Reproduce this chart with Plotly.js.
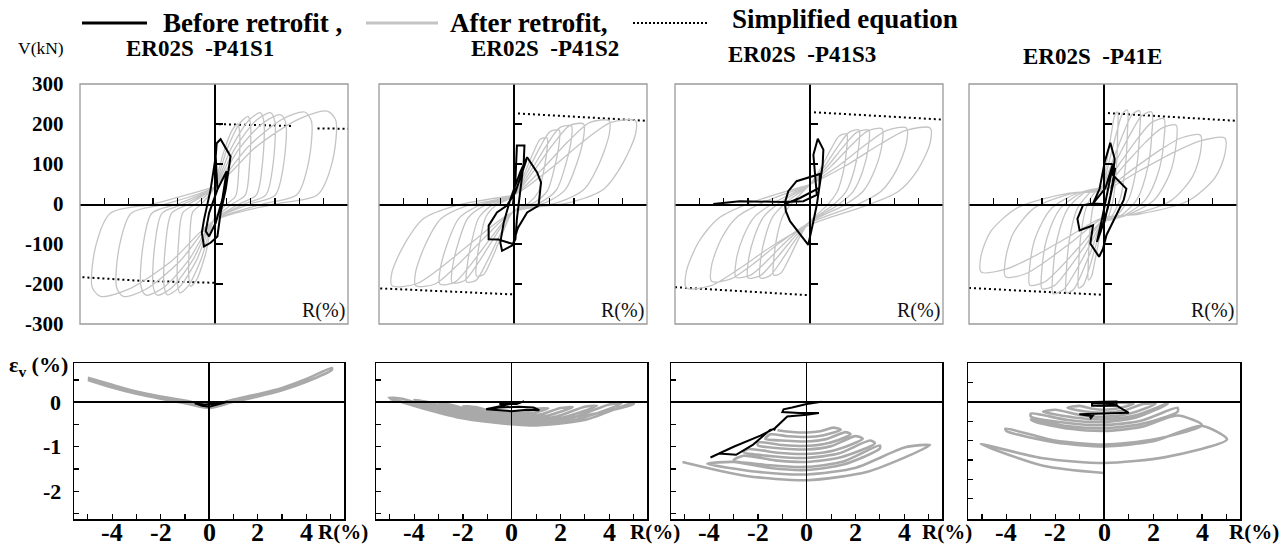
<!DOCTYPE html>
<html><head><meta charset="utf-8">
<script src="https://cdn.plot.ly/plotly-3.0.1.min.js"></script>
<style>html,body{margin:0;padding:0;background:#fff}#chart{width:1288px;height:548px}</style>
</head><body><div id="chart"></div>
<script>
// ================= DATA =================
// Top row: shear force V (kN) vs drift R (%)
const p1AfterR = [
0,0.37,0.74,0.98,1.05,1.02,0.89,0.53, 0,-0.36,-0.72,-0.96,-1.03,-1.0,-0.88,-0.52,
0,0.53,1.05,1.4,1.5,1.46,1.28,0.75, 0,-0.53,-1.05,-1.4,-1.5,-1.46,-1.28,-0.75,
0,0.72,1.44,1.91,2.05,1.99,1.74,1.03, 0,-0.72,-1.44,-1.91,-2.05,-1.99,-1.74,-1.03,
0,0.88,1.75,2.33,2.5,2.43,2.13,1.25, 0,-0.88,-1.75,-2.33,-2.5,-2.43,-2.13,-1.25,
0,1.03,2.07,2.74,2.95,2.86,2.51,1.48, 0,-1.05,-2.1,-2.79,-3.0,-2.91,-2.55,-1.5,
0,1.4,2.8,3.72,4.0,3.88,3.4,2.0, 0,-1.4,-2.8,-3.72,-4.0,-3.88,-3.4,-2.0,
0,1.75,3.5,4.65,5.0,4.85,4.25,2.5, 0,-1.75,-3.5,-4.65,-5.0,-4.85,-4.25,-2.5, 0];
const p1AfterV = [
36,124,184,200,180,90,20,0, -37,-128,-190,-206,-185,-93,-21,0,
39,136,201,219,197,99,22,0, -40,-138,-204,-222,-200,-100,-22,0,
41,141,210,228,205,103,23,0, -41,-141,-209,-227,-204,-102,-23,0,
41,141,210,228,205,103,23,0, -41,-141,-210,-228,-205,-103,-23,0,
40,138,205,223,201,100,22,0, -41,-141,-210,-228,-205,-103,-23,0,
41,143,212,230,207,104,23,0, -42,-143,-213,-231,-208,-104,-23,0,
42,144,213,232,209,104,23,0, -42,-143,-213,-231,-208,-104,-23,0, 42];
const p1BeforeR = [0.07,0.11,0.27,0.68,0.48,0.27,0.14,-0.14,-0.41,-0.5,-0.41,-0.14,0.07, 0.14,0.41,0.52,0.34,0.07,-0.2,-0.34,-0.2,0.14];
const p1BeforeV = [119,152,162,119,36,-22,-81,-97,-106,-72,-39,36,119, 36,69,82,11,-47,-81,-68,-22,36];
const p1EqR = [0,3.2,null,4.25,5.5,null,-5.4,-3,0];
const p1EqV = [200,195,null,189,188,null,-183,-192,-197];

const p2AfterR = [
0,0.42,0.81,1.12,1.4,1.4,1.26,1.04,0.66, 0,-0.45,-0.87,-1.2,-1.5,-1.5,-1.35,-1.11,-0.71,
0,0.57,1.1,1.52,1.9,1.9,1.71,1.41,0.89, 0,-0.57,-1.1,-1.52,-1.9,-1.9,-1.71,-1.41,-0.89,
0,0.72,1.39,1.92,2.4,2.4,2.16,1.78,1.13, 0,-0.75,-1.45,-2.0,-2.5,-2.5,-2.25,-1.85,-1.18,
0,0.87,1.68,2.32,2.9,2.9,2.61,2.15,1.36, 0,-0.9,-1.74,-2.4,-3.0,-3.0,-2.7,-2.22,-1.41,
0,1.19,2.29,3.16,3.95,3.95,3.56,2.92,1.86, 0,-1.2,-2.32,-3.2,-4.0,-4.0,-3.6,-2.96,-1.88,
0,1.51,2.92,4.02,5.03,5.03,4.53,3.72,2.36, 0,-1.49,-2.88,-3.98,-4.97,-4.97,-4.47,-3.68,-2.34, 0];
const p2AfterV = [
17,69,125,162,165,139,83,30,3, -18,-76,-137,-176,-180,-151,-90,-32,-4,
19,78,141,181,185,155,93,33,4, -20,-82,-148,-191,-195,-164,-98,-35,-4,
20,82,148,191,195,164,98,35,4, -20,-82,-149,-192,-196,-165,-98,-35,-4,
20,84,152,196,200,168,100,36,4, -20,-84,-152,-196,-200,-168,-100,-36,-4,
21,87,158,204,208,175,104,37,4, -20,-86,-155,-200,-204,-171,-102,-37,-4,
21,87,158,204,208,175,104,37,4, -20,-86,-155,-200,-204,-171,-102,-37,-4, 21];
const p2BeforeR = [0,0.1,0.16,0.47,0.44,0.3,0.16,0.1,-0.04,-0.45,-0.52,-0.38,-0.11,0.3,0.58,0.99,1.15,1.05,0.58,0.2,0.0,-0.6,-1.0,-1.0,-0.66,-0.25,0.1,0.55];
const p2BeforeV = [0,60,146,146,104,37,-37,-88,-104,-117,-96,-46,12,80,117,79,54,-4,-21,-60,-100,-89,-88,-54,-21,-4,30,110];
const p2EqR = [0,5.5,null,-5.45,0];
const p2EqV = [227,208,null,-211,-226];

const p3AfterR = [
0,0.47,0.9,1.24,1.55,1.55,1.4,1.15,0.73, 0,-0.44,-0.84,-1.16,-1.45,-1.45,-1.31,-1.07,-0.68,
0,0.62,1.19,1.64,2.05,2.05,1.85,1.52,0.96, 0,-0.6,-1.16,-1.6,-2.0,-2.0,-1.8,-1.48,-0.94,
0,0.74,1.42,1.96,2.45,2.45,2.21,1.81,1.15, 0,-0.75,-1.45,-2.0,-2.5,-2.5,-2.25,-1.85,-1.18,
0,0.9,1.74,2.4,3.0,3.0,2.7,2.22,1.41, 0,-0.9,-1.74,-2.4,-3.0,-3.0,-2.7,-2.22,-1.41,
0,1.2,2.32,3.2,4.0,4.0,3.6,2.96,1.88, 0,-1.2,-2.32,-3.2,-4.0,-4.0,-3.6,-2.96,-1.88,
0,1.49,2.88,3.98,4.97,4.97,4.47,3.68,2.34, 0,-1.51,-2.92,-4.02,-5.03,-5.03,-4.53,-3.72,-2.36, 0];
const p3AfterV = [
44,88,137,170,175,140,79,30,-4, -45,-89,-139,-173,-178,-142,-80,-30,4,
46,93,144,179,185,148,83,31,-4, -46,-93,-144,-179,-185,-148,-83,-31,4,
46,93,144,179,185,148,83,31,-4, -46,-93,-144,-179,-185,-148,-83,-31,4,
47,94,147,182,188,150,85,32,-4, -46,-92,-143,-178,-183,-146,-82,-31,4,
48,95,148,184,190,152,86,32,-4, -48,-97,-151,-187,-193,-154,-87,-33,4,
48,95,148,184,190,152,86,32,-4, -53,-105,-164,-204,-210,-168,-95,-36,4, 48];
const p3BeforeR = [-3.93,-2.84,-1.05,-0.23,0.32,0.18,0.36,0.59,0.56,0.45,0.32,0.18,-0.03,-0.78,-0.95,-0.99,-0.85,-0.51,0.45,0.42,-0.37,-0.99];
const p3BeforeV = [0,7,5,7,23,123,163,136,98,48,-2,-43,-102,-43,-18,3,32,57,75,40,15,0];
const p3EqR = [0,5.49,null,-5.5,0];
const p3EqV = [230,211,null,-208,-228];

const p4AfterR = [
0,0.18,0.35,0.48,0.6,0.6,0.55,0.42,0.18, 0,-0.18,-0.35,-0.48,-0.6,-0.6,-0.55,-0.42,-0.18,
0,0.3,0.58,0.8,1.0,1.0,0.92,0.7,0.3, 0,-0.3,-0.58,-0.8,-1.0,-1.0,-0.92,-0.7,-0.3,
0,0.45,0.87,1.2,1.5,1.5,1.38,1.05,0.45, 0,-0.45,-0.87,-1.2,-1.5,-1.5,-1.38,-1.05,-0.45,
0,0.6,1.16,1.6,2.0,2.0,1.84,1.4,0.6, 0,-0.62,-1.19,-1.64,-2.05,-2.05,-1.89,-1.44,-0.62,
0,0.75,1.45,2.0,2.5,2.5,2.3,1.75,0.75, 0,-0.75,-1.45,-2.0,-2.5,-2.5,-2.3,-1.75,-0.75,
0,0.9,1.74,2.4,3.0,3.0,2.76,2.1,0.9, 0,-0.9,-1.74,-2.4,-3.0,-3.0,-2.76,-2.1,-0.9,
0,1.2,2.32,3.2,4.0,4.0,3.68,2.8,1.2, 0,-1.2,-2.32,-3.2,-4.0,-4.0,-3.68,-2.8,-1.2,
0,1.5,2.9,4.0,5.0,5.0,4.6,3.5,1.5, 0,-1.5,-2.9,-4.0,-5.0,-5.0,-4.6,-3.5,-1.5, 0];
const p4AfterV = [
46,115,179,221,230,173,92,12,-35, -38,-95,-148,-182,-190,-143,-76,-10,29,
47,118,183,226,235,176,94,12,-35, -42,-105,-164,-202,-210,-158,-84,-11,32,
47,117,182,224,233,175,93,12,-35, -44,-111,-173,-213,-222,-167,-89,-11,33,
46,115,179,221,230,173,92,12,-35, -45,-112,-175,-215,-224,-168,-90,-11,34,
43,107,166,204,213,160,85,11,-32, -42,-106,-165,-204,-212,-159,-85,-11,32,
39,99,154,189,197,148,79,10,-30, -41,-102,-158,-195,-203,-152,-81,-10,30,
34,86,134,165,172,129,69,9,-26, -36,-91,-142,-175,-182,-137,-73,-9,27,
33,83,129,158,165,124,66,8,-25, -34,-85,-133,-163,-170,-128,-68,-9,26, 33];
const p4BeforeR = [0,-0.41,-0.14,0.07,0.3,0.48,0.41,0.96,0.85,0.14,0,-0.16,-0.52,-0.41,-0.96,-1.05,-0.82,-0.41,0.1,0.41,0.45,0.2,-0.1,-0.25,-0.05,0.35,0.5,0.3,0.0];
const p4BeforeV = [0,1,38,105,153,113,72,38,10,-78,-112,-132,-99,-53,-66,-37,-3,1,40,101,60,-10,-70,-95,-40,80,90,20,-60];
const p4EqR = [0,5.48,null,-5.5,0];
const p4EqV = [228,208,null,-210,-227];

// Bottom row: volumetric strain εv (%) vs drift R (%)
const b1AfterR = [-5.0,-4,-3,-2,-1,0,1,2,3,4,5.05, 5.05,4,3,2,1,0,-1,-2,-3,-4,-5.0];
const b1AfterE = [0.5,0.33,0.19,0.08,-0.02,-0.13,0.01,0.13,0.27,0.46,0.73, 0.77,0.52,0.32,0.18,0.06,-0.07,0.04,0.13,0.24,0.39,0.55];
const b1BeforeR = [-0.6,-0.3,0,0.4,0.75,0.3,-0.2,-0.6];
const b1BeforeE = [-0.02,-0.08,-0.1,-0.04,0.01,-0.03,-0.05,-0.03];

const b2AfterR = [
-1,-0.45,0.15,0.6,1, 1.5,0.9,0.23,-0.68,-1.5, -2,-0.9,0.3,1.2,2, 2.5,1.5,0.38,-1.13,-2.5,
-3,-1.35,0.45,1.8,3, 3.5,2.1,0.53,-1.58,-3.5, -4,-1.8,0.6,2.4,4, 4.5,2.7,0.68,-2.03,-4.5,
-5.05,-2.27,0.76,3.03,5.0, 5.0,3.0,0.7,-2.2,-5.0];
const b2AfterE = [
-0.14,-0.196,-0.22,-0.203,-0.15, -0.14,-0.238,-0.27,-0.222,-0.11, -0.09,-0.251,-0.32,-0.273,-0.13, -0.11,-0.298,-0.36,-0.27,-0.06,
-0.03,-0.289,-0.40,-0.325,-0.10, -0.08,-0.343,-0.43,-0.298,0.01, 0.05,-0.314,-0.47,-0.365,-0.05, -0.03,-0.383,-0.5,-0.326,0.08,
0.1,-0.334,-0.52,-0.393,-0.01, -0.04,-0.3,-0.4,-0.25,0.07];
const b2BeforeR = [-0.5,0.3,0.5,0.2,-0.5,-0.4,0.1,-1.05,0,0.6,1.13,0.9,0.3,-0.5,-1.05];
const b2BeforeE = [-0.02,-0.02,0.02,-0.04,-0.04,-0.01,-0.02,-0.16,-0.2,-0.17,-0.18,-0.12,-0.1,-0.12,-0.16];

const b3AfterR = [
-1.2,-0.6,0,0.55,1.1, 1.4,0.7,0,-0.75,-1.5, -1.7,-0.85,0,0.8,1.6, 1.8,0.9,0,-1.0,-2.0,
-2.0,-1.0,0,1.0,2.0, 2.3,1.15,0,-1.2,-2.4, -2.6,-1.3,0,1.3,2.6, 2.8,1.4,0,-1.3,-2.6,
-3.0,-1.5,0,1.5,3.0, 3.0,1.5,0,-1.5,-3.0, -4.08,-2.04,0,2.02,4.04, 5.06,2.53,0,-2.55,-5.1];
const b3AfterE = [
-0.63,-0.668,-0.68,-0.652,-0.57, -0.62,-0.74,-0.78,-0.765,-0.72, -0.82,-0.865,-0.88,-0.828,-0.67, -0.72,-0.915,-0.98,-0.96,-0.9,
-0.97,-1.038,-1.06,-0.985,-0.76, -0.82,-1.075,-1.16,-1.133,-1.05, -1.12,-1.218,-1.25,-1.153,-0.86, -0.92,-1.235,-1.34,-1.305,-1.2,
-1.3,-1.413,-1.45,-1.33,-0.97, -1.04,-1.4,-1.52,-1.475,-1.34, -1.38,-1.56,-1.62,-1.468,-1.01, -0.96,-1.553,-1.75,-1.648,-1.34];
const b3BeforeR = [0.6,0,-0.6,-0.95,-1.0,-0.3,0.5,0,-0.8,-1.3,-1.9,-3.0,-3.95,-3.6,-2.9,-2.2,-1.5,-1.3,-1.35];
const b3BeforeE = [0.01,-0.04,-0.12,-0.16,-0.22,-0.24,-0.24,-0.28,-0.32,-0.58,-0.75,-1.0,-1.24,-1.15,-1.18,-0.95,-0.62,-0.6,-0.63];

const b4AfterR = [
-0.5,-0.25,0,0.3,0.6, 1.2,0.6,0,-0.5,-1.0, -1.5,-0.75,0,0.8,1.6, 2.1,1.05,0,-1.0,-2.0,
-2.5,-1.25,0,1.25,2.5, 2.6,1.3,0,-1.5,-3.0, -3.0,-1.5,0,1.5,3.0, 3.0,1.5,0,-1.5,-3.0,
-2.8,-1.4,0,1.5,3.0, 4.0,2.0,0,-2.02,-4.04, -4.0,-2.0,0,2.0,4.0, 5.02,2.5,0,-2.5,-5.05, -2.5,0];
const b4AfterE = [
-0.05,-0.088,-0.1,-0.08,-0.02, -0.05,-0.163,-0.2,-0.175,-0.1, -0.15,-0.248,-0.28,-0.223,-0.05, -0.05,-0.298,-0.38,-0.335,-0.2,
-0.25,-0.4,-0.45,-0.353,-0.06, -0.05,-0.403,-0.52,-0.465,-0.3, -0.38,-0.545,-0.6,-0.488,-0.15, -0.25,-0.573,-0.68,-0.623,-0.45,
-0.52,-0.693,-0.75,-0.65,-0.35, -0.6,-0.975,-1.1,-1.0,-0.69, -0.75,-1.05,-1.15,-1.018,-0.62, -0.97,-1.428,-1.58,-1.458,-1.09, -1.65,-1.84];
const b4BeforeR = [-0.5,0.5,0.5,-0.5,-0.5,0.4,1.0,-1.02,-0.55,-0.4,-0.55,-0.6];
const b4BeforeE = [0.0,0.01,-0.1,-0.1,-0.02,-0.05,-0.28,-0.32,-0.36,-0.3,-0.42,-0.36];

// Axis ticks and labels
const topXTicks = [-4.5,-3.5,-2.5,-1.5,-0.5,0.5,1.5,2.5,3.5,4.5];
const topYTicks = [-300,-200,-100,100,200,300];
const topYLabelVals = [300,200,100,0,-100,-200,-300];
const topYLabelText = ['300','200','100','0','-100','-200','-300'];
const botXTicks = [-5,-4,-3,-2,-1,0,1,2,3,4,5];
const botXLabelVals = [-4,-2,0,2,4];
const botXLabelText = ['-4','-2','0','2','4'];
const botYTicks = [0.5,0,-0.5,-1,-1.5,-2,-2.5];
const botYLabelVals = [0,-1,-2];
const botYLabelText = ['0','-1','-2'];
const panelTitles = ['ER02S\u00a0 -P41S1','ER02S\u00a0 -P41S2','ER02S\u00a0 -P41S3','ER02S\u00a0 -P41E'];
const legendText = ['Before retrofit ,','After retrofit,','Simplified equation'];

// ================= LAYOUT =================
const W = 1288, H = 548;
const fx = p => p / W, fy = p => 1 - p / H;
const SERIF = "'Liberation Serif', 'Times New Roman', serif";
const GRAY = '#c4c4c4', GRAY2 = '#a9a9a9';

const topPx = [[80,348],[379,647],[675,943],[969,1237]];
const botPx = [[74,344],[376,647],[671,942],[968,1240]];
const topY = [fy(324), fy(84)];
const botY = [fy(519), fy(363)];
const topXR = [-5.5,5.5], topYR = [-300,300];
const botXR = [-5.57,5.55];
const botYR = [[-2.62,0.88],[-2.62,0.88],[-2.62,0.88],[-3.03,1.01]];

const topData = [
  [p1AfterR,p1AfterV,p1BeforeR,p1BeforeV,p1EqR,p1EqV],
  [p2AfterR,p2AfterV,p2BeforeR,p2BeforeV,p2EqR,p2EqV],
  [p3AfterR,p3AfterV,p3BeforeR,p3BeforeV,p3EqR,p3EqV],
  [p4AfterR,p4AfterV,p4BeforeR,p4BeforeV,p4EqR,p4EqV]];
const botData = [
  [b1AfterR,b1AfterE,b1BeforeR,b1BeforeE],
  [b2AfterR,b2AfterE,b2BeforeR,b2BeforeE],
  [b3AfterR,b3AfterE,b3BeforeR,b3BeforeE],
  [b4AfterR,b4AfterE,b4BeforeR,b4BeforeE]];

const traces = [];
const layout = {
  width: W, height: H, margin: {l:0,r:0,t:0,b:0},
  paper_bgcolor: '#fff', plot_bgcolor: 'rgba(0,0,0,0)',
  showlegend: false, shapes: [], annotations: []
};
const ax = n => n === 1 ? '' : String(n);
const bold = (size) => ({family:SERIF, size:size, color:'#000', weight:'bold'});

for (let i = 0; i < 4; i++) {
  const n = i + 1, id = ax(n);
  const xd = [fx(topPx[i][0]), fx(topPx[i][1])];
  const d = topData[i];
  traces.push({x:d[4], y:d[5], xaxis:'x'+id, yaxis:'y'+id, mode:'lines', connectgaps:false,
    line:{color:'#000', width:2, dash:'2px,3px'}, hoverinfo:'skip'});
  traces.push({x:d[0], y:d[1], xaxis:'x'+id, yaxis:'y'+id, mode:'lines',
    line:{color:GRAY, width:1.3, shape:'spline', smoothing:0.8}, hoverinfo:'skip'});
  traces.push({x:d[2], y:d[3], xaxis:'x'+id, yaxis:'y'+id, mode:'lines',
    line:{color:'#000', width:2}, hoverinfo:'skip'});
  layout['xaxis'+id] = {domain: xd, range: topXR, anchor:'free',
    position: topY[0] + (0 - topYR[0]) / (topYR[1] - topYR[0]) * (topY[1] - topY[0]),
    showline:true, linecolor:'#000', linewidth:1.5, ticks:'inside', ticklen:6, tickwidth:1.2, tickcolor:'#000',
    tickmode:'array', tickvals: topXTicks, showticklabels:false, showgrid:false, zeroline:false, fixedrange:true};
  layout['yaxis'+id] = {domain: topY, range: topYR, anchor:'free',
    position: xd[0] + (0 - topXR[0]) / (topXR[1] - topXR[0]) * (xd[1] - xd[0]),
    showline:true, linecolor:'#000', linewidth:1.5, ticks:'inside', ticklen:7, tickwidth:1.2, tickcolor:'#000',
    tickmode:'array', tickvals: topYTicks, showticklabels:false, showgrid:false, zeroline:false, fixedrange:true};
  layout.shapes.push({type:'rect', xref:'x'+id+' domain', yref:'y'+id+' domain', x0:0, x1:1, y0:0, y1:1,
    line:{color:'#9a9a9a', width:1.3}, layer:'above'});
  layout.annotations.push({xref:'x'+id+' domain', yref:'y'+id+' domain', x:0.995, y:0.0, xanchor:'right', yanchor:'bottom',
    text:'R(%)', showarrow:false, font:{family:SERIF, size:20, color:'#111'}});
}

const rLabelPx = [316, 628, 920, 1227];
for (let i = 0; i < 4; i++) {
  const n = i + 5, id = ax(n);
  const d = botData[i];
  traces.push({x:d[0], y:d[1], xaxis:'x'+id, yaxis:'y'+id, mode:'lines',
    line:{color:GRAY2, width:2.6, shape:'spline', smoothing:0.7}, hoverinfo:'skip'});
  traces.push({x:d[2], y:d[3], xaxis:'x'+id, yaxis:'y'+id, mode:'lines',
    line:{color:'#000', width:2}, hoverinfo:'skip'});
  layout['xaxis'+id] = {domain:[fx(botPx[i][0]), fx(botPx[i][1])], range: botXR, anchor:'y'+id,
    showline:true, mirror:true, linecolor:'#000', linewidth:1.5, ticks:'inside', ticklen:5, tickwidth:1.2, tickcolor:'#000',
    tickmode:'array', tickvals: botXTicks, showticklabels:false,
    showgrid:false, zeroline:true, zerolinecolor:'#000', zerolinewidth:1.5, zerolinelayer:'above traces', fixedrange:true};
  layout['yaxis'+id] = {domain: botY, range: botYR[i], anchor:'x'+id,
    showline:true, mirror:true, linecolor:'#000', linewidth:1.5, ticks:'inside', ticklen:5, tickwidth:1.2, tickcolor:'#000',
    tickmode:'array', tickvals: botYTicks, showticklabels:false,
    showgrid:false, zeroline:true, zerolinecolor:'#000', zerolinewidth:1.5, zerolinelayer:'above traces', fixedrange:true};
  botXLabelVals.forEach((v, k) => layout.annotations.push({xref:'x'+id, yref:'paper', x:v, y:fy(532), xanchor:'center', yanchor:'middle',
    text: botXLabelText[k], showarrow:false, font: bold(26)}));
  layout.annotations.push({xref:'paper', yref:'paper', x:fx(rLabelPx[i]), y:fy(532), xanchor:'left', yanchor:'middle',
    text:'R(%)', showarrow:false, font: bold(21)});
}

// Left tick labels
topYLabelVals.forEach((v, k) => layout.annotations.push({xref:'paper', yref:'y', x:fx(66), y:v, xanchor:'right', yanchor:'middle',
  text: topYLabelText[k], showarrow:false, font: bold(21)}));
botYLabelVals.forEach((v, k) => layout.annotations.push({xref:'paper', yref:'y5', x:fx(63), y:v, xanchor:'right', yanchor:'middle',
  text: botYLabelText[k], showarrow:false, font: bold(22)}));

// Panel titles
[[200,48],[545,48],[802,54],[1092,57]].forEach((p,k) => layout.annotations.push({xref:'paper', yref:'paper', x:fx(p[0]), y:fy(p[1]),
  xanchor:'center', yanchor:'middle', text: panelTitles[k], showarrow:false, font: bold(23)}));

// Axis names
layout.annotations.push({xref:'paper', yref:'paper', x:fx(16), y:fy(48), xanchor:'left', yanchor:'middle', text:'V(kN)', showarrow:false,
  font:{family:SERIF, size:17.5, color:'#000'}});
layout.annotations.push({xref:'paper', yref:'paper', x:fx(7), y:fy(366), xanchor:'left', yanchor:'middle', text:'ε<sub>v</sub> (%)', showarrow:false,
  font: bold(22)});

// Legend (drawn manually)
layout.shapes.push({type:'line', xref:'paper', yref:'paper', x0:fx(82), x1:fx(147), y0:fy(23), y1:fy(23), line:{color:'#000', width:3}});
layout.shapes.push({type:'line', xref:'paper', yref:'paper', x0:fx(366), x1:fx(438), y0:fy(23), y1:fy(23), line:{color:GRAY, width:3}});
layout.shapes.push({type:'line', xref:'paper', yref:'paper', x0:fx(633), x1:fx(707), y0:fy(23), y1:fy(23), line:{color:'#000', width:2, dash:'2px,2px'}});
[[252,23],[528,23],[845,19]].forEach((p,k) => layout.annotations.push({xref:'paper', yref:'paper', x:fx(p[0]), y:fy(p[1]),
  xanchor:'center', yanchor:'middle', text: legendText[k], showarrow:false, font: bold(27)}));

Plotly.newPlot('chart', traces, layout, {staticPlot:true, displayModeBar:false});
</script>
</body></html>
